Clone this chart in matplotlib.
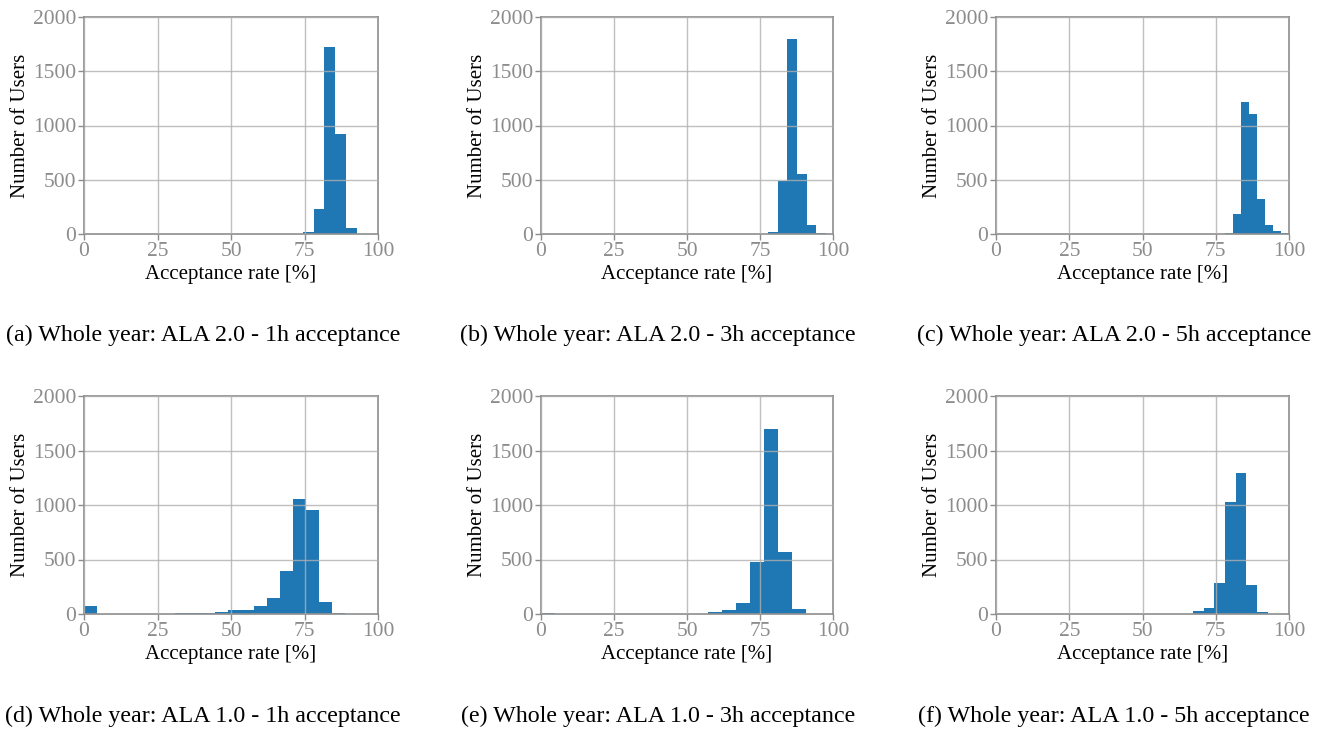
import matplotlib.pyplot as plt
import numpy as np

plt.rcParams['font.family'] = ['Liberation Serif', 'DejaVu Serif']

# bin ranges (lo, hi) and counts per panel
ranges_a = (74.5, 92.7)
counts_a = [20, 230, 1720, 925, 55]

ranges_b = (77.8, 97.6)
counts_b = [15, 491, 1800, 555, 80, 10]

ranges_c = (78.2, 100.0)
counts_c = [8, 184, 1217, 1106, 323, 83, 28, 10]

ranges_d = (0.0, 88.8)
counts_d = [76, 3, 2, 2, 3, 2, 3, 12, 5, 12, 21, 40, 40, 77, 144, 390, 1054, 952, 113, 12]

ranges_e = (0.0, 95.5)
counts_e = [12, 2, 2, 2, 2, 2, 2, 2, 2, 2, 2, 2, 18, 37, 101, 477, 1700, 569, 46, 3]

ranges_f = (27.2, 100.0)
counts_f = [2, 2, 2, 2, 2, 2, 2, 2, 2, 2, 2, 31, 59, 281, 1031, 1290, 262, 22, 1, 1]

captions = ["(a) Whole year: ALA 2.0 - 1h acceptance",
            "(b) Whole year: ALA 2.0 - 3h acceptance",
            "(c) Whole year: ALA 2.0 - 5h acceptance",
            "(d) Whole year: ALA 1.0 - 1h acceptance",
            "(e) Whole year: ALA 1.0 - 3h acceptance",
            "(f) Whole year: ALA 1.0 - 5h acceptance"]

xticks = [0, 25, 50, 75, 100]
yticks = [0, 500, 1000, 1500, 2000]

W, H = 1321, 730
fig = plt.figure(figsize=(W / 100, H / 100), dpi=100)

# axes boxes in pixels: left, right, top, bottom
boxes = [(84, 378, 17, 234), (541, 833, 17, 234), (996, 1289, 17, 234),
         (84, 378, 396, 614), (541, 833, 396, 614), (996, 1289, 396, 614)]
cap_pos = [(203, 335), (658, 335), (1114, 335), (203, 716), (658, 716), (1114, 716)]

data = [(ranges_a, counts_a), (ranges_b, counts_b), (ranges_c, counts_c),
        (ranges_d, counts_d), (ranges_e, counts_e), (ranges_f, counts_f)]

gray = '#8c8c8c'
for i, ((lo, hi), counts) in enumerate(data):
    l, r, t, b = boxes[i]
    ax = fig.add_axes([l / W, 1 - b / H, (r - l) / W, (b - t) / H])
    edges = np.linspace(lo, hi, len(counts) + 1)
    ax.hist(edges[:-1], bins=edges, weights=counts, color='#1f77b4')
    ax.set_xlim(0, 100)
    ax.set_ylim(0, 2000)
    ax.set_xticks(xticks)
    ax.set_yticks(yticks)
    ax.set_axisbelow(False)
    ax.grid(True, color='#b0b0b0', lw=1, alpha=0.8)
    for s in ax.spines.values():
        s.set_color(gray)
        s.set_linewidth(1.2)
    ax.tick_params(colors=gray, labelsize=15.5, length=4, width=1, pad=1.5)
    ax.set_xlabel("Acceptance rate [%]", fontsize=15, labelpad=3)
    ax.set_ylabel("Number of Users", fontsize=15, labelpad=2)
    cx, cy = cap_pos[i]
    fig.text(cx / W, 1 - cy / H, captions[i], ha='center', va='center', fontsize=17.3)

fig.savefig("out.png", dpi=100)
